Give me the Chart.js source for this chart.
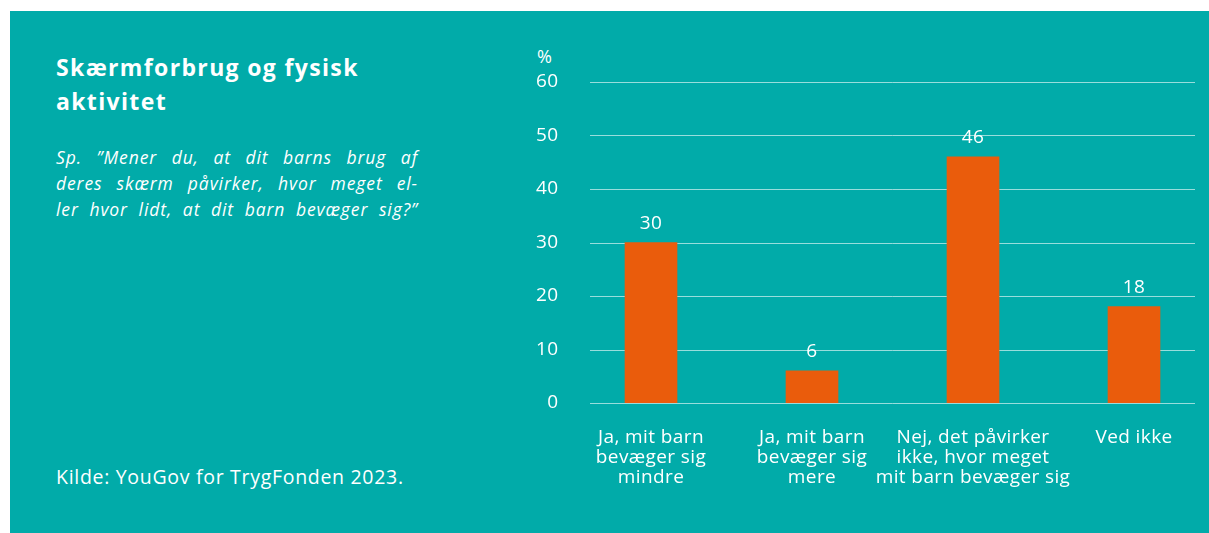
<!DOCTYPE html>
<html lang="da">
<head>
<meta charset="utf-8">
<script src="https://cdn.jsdelivr.net/npm/chart.js@4"></script>
<style>
  html, body { margin: 0; padding: 0; background: #fff; overflow: hidden; }
  body { width: 1209px; height: 533px; position: relative; font-family: "Open Sans", sans-serif; color: #fff; }
  #panel { position: absolute; left: 10px; top: 11px; width: 1199px; height: 522px; background: #01ABA9; overflow: hidden; }
  #title { position: absolute; left: 46px; top: 39px; font-size: 23px; font-weight: bold; line-height: 34px; letter-spacing: 1.35px; }
  #question { position: absolute; left: 46px; top: 133px; width: 362px; font-size: 17.5px; font-style: italic; line-height: 26px; letter-spacing: 0.9px; }
  #question div { text-align: justify; text-align-last: justify; white-space: nowrap; }
  #source { position: absolute; left: 46px; top: 452px; font-size: 19.5px; letter-spacing: 0.7px; }
  #unit { position: absolute; left: 527px; top: 33px; font-size: 18px; }
  #wrap { position: absolute; left: 510px; top: 0; width: 700px; height: 522px; }
</style>
</head>
<body>
<div id="panel">
  <div id="title">Skærmforbrug og fysisk<br>aktivitet</div>
  <div id="question">
    <div>Sp. ”Mener du, at dit barns brug af</div>
    <div>deres skærm påvirker, hvor meget el-</div>
    <div>ler hvor lidt, at dit barn bevæger sig?”</div>
  </div>
  <div id="source">Kilde: YouGov for TrygFonden 2023.</div>
  <div id="unit">%</div>
  <div id="wrap"><canvas id="chart" width="700" height="522"></canvas></div>
</div>
<script>
// data
const categories = [
    ['Ja, mit barn', 'bevæger sig', 'mindre'],
    ['Ja, mit barn', 'bevæger sig', 'mere'],
    ['Nej, det påvirker', 'ikke, hvor meget', 'mit barn bevæger sig'],
    ['Ved ikke']
];
const shares = [30, 6, 46, 18];
const yTicks = [0, 10, 20, 30, 40, 50, 60];

const barColor = '#EA5C0C';
const gridColor = 'rgba(255, 255, 255, 0.6)';
const fontFamily = '"Open Sans", sans-serif';

// the source font runs a bit wider than Open Sans
const spacingPlugin = {
    id: 'spacing',
    beforeDraw(chart) {
        chart.ctx.letterSpacing = '0.4px';
    }
};

// light gridlines that stop short of the category edges
const gridPlugin = {
    id: 'shortGrid',
    beforeDatasetsDraw(chart) {
        const { ctx, chartArea, scales } = chart;
        ctx.save();
        ctx.strokeStyle = gridColor;
        ctx.lineWidth = 1;
        yTicks.forEach(v => {
            const y = Math.round(scales.y.getPixelForValue(v)) + 0.5;
            ctx.beginPath();
            ctx.moveTo(chartArea.left + 19.5, y);
            ctx.lineTo(chartArea.right - 19.5, y);
            ctx.stroke();
        });
        ctx.restore();
    }
};

// value above each bar
const valuePlugin = {
    id: 'values',
    afterDatasetsDraw(chart) {
        const { ctx } = chart;
        const meta = chart.getDatasetMeta(0);
        ctx.save();
        ctx.fillStyle = '#fff';
        ctx.font = '19px ' + fontFamily;
        ctx.textAlign = 'center';
        ctx.textBaseline = 'middle';
        meta.data.forEach((bar, i) => {
            ctx.fillText(String(shares[i]), bar.x, bar.y - 19);
        });
        ctx.restore();
    }
};

new Chart(document.getElementById('chart'), {
    type: 'bar',
    data: {
        labels: categories,
        datasets: [{
            data: shares,
            backgroundColor: barColor,
            borderWidth: 0,
            barThickness: 52
        }]
    },
    options: {
        responsive: false,
        animation: false,
        layout: { padding: { top: 71, bottom: 30, right: 5.5, left: 0 } },
        scales: {
            x: {
                grid: { display: false },
                border: { display: false },
                ticks: {
                    color: '#fff',
                    font: { family: fontFamily, size: 19, lineHeight: '20px' },
                    padding: 17,
                    maxRotation: 0,
                    autoSkip: false
                },
                afterFit(scale) { scale.height = 100; }
            },
            y: {
                min: 0,
                max: 60,
                grid: { display: false },
                border: { display: false },
                afterBuildTicks(scale) { scale.ticks = yTicks.map(v => ({ value: v })); },
                ticks: {
                    color: '#fff',
                    font: { family: fontFamily, size: 19 },
                    padding: 4
                },
                afterFit(scale) { scale.width = 50.5; }
            }
        },
        plugins: {
            legend: { display: false },
            tooltip: { enabled: false }
        }
    },
    plugins: [spacingPlugin, gridPlugin, valuePlugin]
});
</script>
</body>
</html>
